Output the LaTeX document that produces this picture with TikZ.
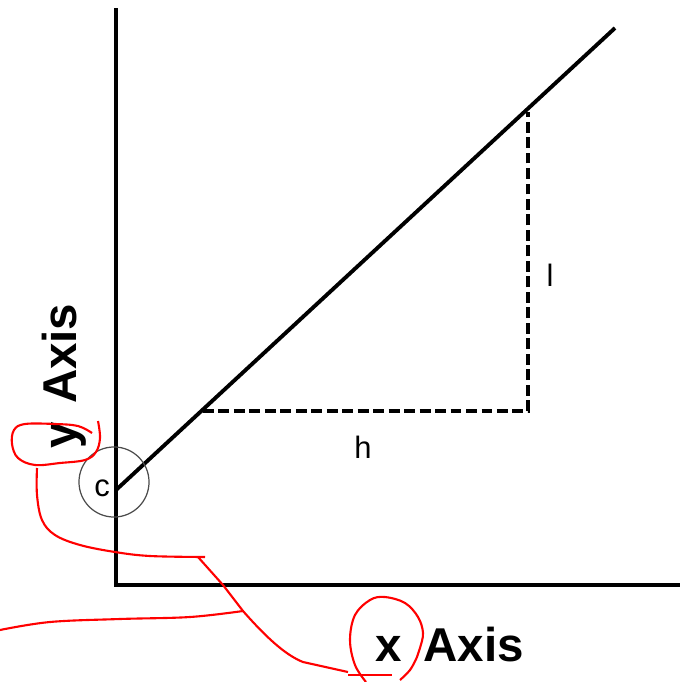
\documentclass[tikz,border=0pt]{standalone}
\usepackage{fontspec}
\setmainfont{Liberation Sans}
\usepackage{tikz}

\begin{document}
\begin{tikzpicture}[x=0.01cm,y=-0.01cm,
    axis/.style={line width=0.9pt,line cap=rect},
    slope/.style={line width=1.1pt},
    leg/.style={line width=1pt,dash pattern=on 3.1pt off 1.3pt},
    pen/.style={red,line width=0.6pt},
    lbl/.style={inner sep=0pt,font=\fontsize{8.8}{10}\selectfont},
    axlbl/.style={inner sep=0pt,font=\fontsize{13.5}{15}\selectfont\bfseries}]
\useasboundingbox (0,0) rectangle (680,682);
\coordinate (O) at (116,585);
\coordinate (ytop) at (116,10);
\coordinate (xend) at (680,585);
\coordinate (c0) at (116,490);
\coordinate (ltop) at (615,28);
\coordinate (hleft) at (203,411);
\coordinate (corner) at (528,411);
\coordinate (lup) at (528,112);
\draw[axis] (ytop) -- (O) -- (xend);
\draw[slope] (c0) -- (ltop);
\draw[leg] (hleft) -- (corner) -- (lup);
\node[lbl] (l) at (550,275) {l};
\node[lbl] (h) at (363,447) {h};
\node[lbl] (c) at (102,488) {c};
\node[draw=black!70,line width=0.35pt,circle,inner sep=0pt,
  minimum size=0.7cm] (ring) at (114,482) {};
\node[axlbl] (xlab) at (450,645) {x\hspace{0.45em}Axis};
\node[axlbl,rotate=90] (ylab) at (64,376) {y\hspace{0.38em}Axis};
% red marks
\draw[pen] plot[smooth,tension=0.6] coordinates {(98,421) (100,438) (96,452) (85,460)
  (60,463) (35,465) (18,458) (12,444) (14,430) (25,424) (55,424) (78,426) (92,433)};
\draw[pen] plot[smooth,tension=0.6] coordinates {(37,468) (37,495) (42,520) (55,535)
  (80,545) (115,552) (150,556) (205,557)};
\draw[pen] (198,557) -- (223,585) -- (243,611) .. controls (265,636) and (285,655) .. (303,662)
  -- (348,672);
\draw[pen] (348,675) -- (392,675);
\draw[pen] plot[smooth,tension=0.6] coordinates {(0,630) (50,622) (120,619) (190,617) (243,611)};
\draw[pen] plot[smooth,tension=0.6] coordinates {(366,682) (355,665) (350,640) (355,615)
  (370,600) (385,597) (405,603) (418,617) (423,633) (420,648) (417,657) (410,670) (400,680)};
\end{tikzpicture}
\end{document}
